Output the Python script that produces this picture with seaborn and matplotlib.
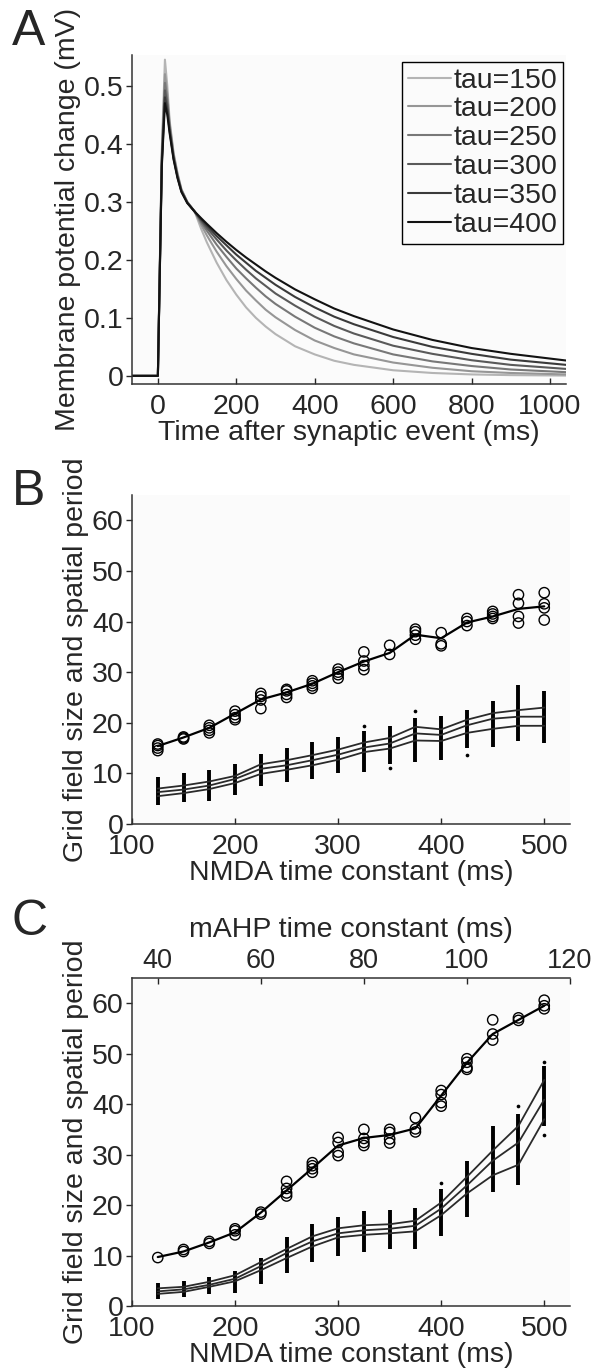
import pandas as pd
import matplotlib
matplotlib.use("Agg")
import matplotlib.pyplot as plt
import seaborn as sns

# ---------- A: membrane potential change after a synaptic event
t_ms = [-66, 0, 10, 18, 24, 30, 40, 50, 60, 75, 94, 110, 125, 150, 175, 200, 225, 250,
        275, 300, 350, 400, 450, 500, 600, 700, 800, 900, 1041]
tau_labels = ['tau=150', 'tau=200', 'tau=250', 'tau=300', 'tau=350', 'tau=400']
v_tau150 = [0, 0, 0.39, 0.545, 0.50, 0.44, 0.385, 0.35, 0.322, 0.300, 0.283, 0.254, 0.230,
            0.195, 0.165, 0.140, 0.118, 0.100, 0.085, 0.072, 0.051, 0.037, 0.026, 0.019,
            0.0097, 0.005, 0.0025, 0.0013, 0.0005]
v_tau200 = [0, 0, 0.38, 0.52, 0.485, 0.435, 0.382, 0.348, 0.321, 0.300, 0.283, 0.261, 0.242,
            0.214, 0.189, 0.167, 0.147, 0.130, 0.114, 0.101, 0.079, 0.061, 0.048, 0.037,
            0.023, 0.014, 0.008, 0.005, 0.0025]
v_tau250 = [0, 0, 0.375, 0.505, 0.475, 0.43, 0.379, 0.346, 0.320, 0.299, 0.283, 0.265, 0.250,
            0.226, 0.205, 0.185, 0.168, 0.152, 0.137, 0.124, 0.102, 0.083, 0.068, 0.056,
            0.037, 0.025, 0.017, 0.011, 0.0064]
v_tau300 = [0, 0, 0.37, 0.492, 0.467, 0.426, 0.377, 0.344, 0.319, 0.299, 0.283, 0.268, 0.255,
            0.235, 0.216, 0.199, 0.183, 0.168, 0.155, 0.142, 0.121, 0.102, 0.086, 0.073,
            0.052, 0.038, 0.027, 0.019, 0.012]
v_tau350 = [0, 0, 0.365, 0.48, 0.458, 0.422, 0.375, 0.343, 0.318, 0.298, 0.283, 0.270, 0.259,
            0.241, 0.225, 0.209, 0.195, 0.181, 0.169, 0.157, 0.136, 0.118, 0.102, 0.089,
            0.067, 0.050, 0.038, 0.028, 0.019]
v_tau400 = [0, 0, 0.36, 0.47, 0.45, 0.418, 0.373, 0.341, 0.317, 0.298, 0.283, 0.272, 0.262,
            0.246, 0.231, 0.217, 0.204, 0.192, 0.180, 0.169, 0.149, 0.132, 0.116, 0.103,
            0.080, 0.062, 0.048, 0.038, 0.0265]
tau_colors = ['#b4b4b4', '#969696', '#787878', '#5a5a5a', '#3a3a3a', '#121212']

# ---------- B / C: NMDA time constants
nmda = [125, 150, 175, 200, 225, 250, 275, 300, 325, 350, 375, 400, 425, 450, 475, 500]

# B: spatial period (circles = runs, line = mean)
b_period_mean = [15.4, 17.1, 19.0, 21.8, 24.6, 26.0, 27.7, 30.0, 32.1, 33.8, 37.4, 36.7,
                 39.8, 41.0, 42.5, 43.0]
b_period_runs = [[14.5, 15.0, 15.5, 15.8], [16.8, 17.0, 17.2], [18.0, 18.5, 19.0, 19.5],
                 [20.6, 21.0, 21.6, 22.3], [22.8, 24.5, 25.2, 25.8], [25.0, 25.6, 26.3, 26.6],
                 [26.8, 27.3, 27.8, 28.3], [28.8, 29.5, 30.0, 30.6], [30.5, 31.3, 32.2, 34.0],
                 [33.5, 35.3], [36.5, 37.3, 38.0, 38.5], [35.2, 35.6, 37.8], [39.2, 40.0, 40.6],
                 [40.6, 41.0, 41.5, 42.0], [39.7, 41.0, 43.6, 45.3], [40.3, 42.7, 43.5, 45.7]]
# B: field size (three lines, dot columns)
b_size_hi = [7.0, 7.6, 8.4, 9.5, 11.8, 12.6, 13.6, 14.7, 16.1, 17.0, 19.2, 18.7, 20.6, 21.9, 22.5, 23.0]
b_size_mid = [6.3, 6.8, 7.6, 8.9, 10.9, 11.6, 12.6, 13.7, 15.1, 15.9, 17.9, 17.6, 19.5, 20.8, 21.2, 21.2]
b_size_lo = [5.5, 6.1, 6.9, 8.1, 9.9, 10.7, 11.6, 12.7, 14.2, 14.9, 16.5, 16.4, 18.0, 18.8, 19.4, 19.4]
b_dot_lo = [3.7, 4.3, 4.6, 5.7, 7.6, 8.2, 8.8, 10.0, 10.2, 11.8, 12.2, 12.6, 15.0, 15.2, 16.4, 16.0]
b_dot_hi = [9.2, 10.0, 10.7, 11.8, 13.8, 15.1, 16.2, 17.2, 18.3, 19.4, 21.0, 21.3, 22.5, 24.3, 27.5, 26.2]
b_out_x = [325, 350, 375, 425]
b_out_y = [19.4, 11.0, 22.3, 13.7]

# C: spatial period
c_period_mean = [9.7, 10.8, 12.6, 14.6, 18.5, 22.9, 27.3, 31.8, 33.3, 33.9, 35.2, 41.7,
                 48.2, 53.9, 56.7, 59.5]
c_period_runs = [[9.6], [10.8, 11.2], [12.4, 12.8], [14.1, 14.9, 15.3], [18.2, 18.6],
                 [21.8, 22.4, 23.3, 24.7], [26.5, 27.2, 27.8, 28.4], [29.8, 30.5, 32.4, 33.4],
                 [31.8, 32.4, 33.2, 35.0], [32.3, 33.1, 34.4, 35.0], [34.5, 35.1, 37.3],
                 [39.6, 40.3, 41.9, 42.7], [46.9, 47.3, 48.3, 49.0], [52.7, 53.9, 56.7],
                 [56.6, 57.1], [58.9, 59.5, 60.6]]
c_size_hi = [3.5, 3.8, 4.8, 6.1, 8.7, 11.3, 13.8, 15.4, 16.0, 16.2, 16.9, 20.5, 25.6, 30.8, 35.7, 44.8]
c_size_mid = [2.9, 3.3, 4.2, 5.4, 7.9, 10.5, 12.8, 14.4, 15.0, 15.3, 15.9, 19.3, 23.9, 28.8, 32.4, 40.9]
c_size_lo = [2.4, 2.8, 3.8, 4.9, 7.1, 9.5, 11.8, 13.6, 14.1, 14.4, 14.8, 18.0, 22.3, 25.9, 28.0, 37.0]
c_dot_lo = [1.3, 1.8, 2.3, 2.6, 4.3, 6.6, 8.7, 10.0, 10.7, 11.3, 11.3, 13.9, 17.7, 22.5, 23.9, 35.7]
c_dot_hi = [4.6, 5.0, 5.7, 7.0, 9.6, 13.7, 16.3, 17.6, 18.9, 19.0, 19.4, 23.1, 28.8, 35.6, 38.0, 47.5]
c_out_x = [400, 475, 500, 500]
c_out_y = [24.3, 39.6, 48.4, 33.9]

FS = 20.5

sns.set_style('ticks')
plt.rcParams['font.family'] = ['Liberation Sans', 'DejaVu Sans']
plt.rcParams['font.size'] = FS
plt.rcParams['axes.linewidth'] = 1.1
plt.rcParams['axes.edgecolor'] = '#333333'
plt.rcParams['axes.facecolor'] = '#fbfbfb'

fig = plt.figure(figsize=(5.93, 13.68), dpi=100)
W, H = 593, 1368


def box(l, t, r, b):
    return [l / W, 1 - b / H, (r - l) / W, (b - t) / H]


axA = fig.add_axes(box(132, 55, 566, 384))
axB = fig.add_axes(box(132, 495, 570, 824))
axC = fig.add_axes(box(132, 978, 570, 1306))

# ---------- panel A
rows = []
for lab, vals in zip(tau_labels, [v_tau150, v_tau200, v_tau250, v_tau300, v_tau350, v_tau400]):
    for t, v in zip(t_ms, vals):
        rows.append((lab, t, v))
dfA = pd.DataFrame(rows, columns=['tau', 't', 'v'])
sns.lineplot(data=dfA, x='t', y='v', hue='tau', palette=tau_colors, estimator=None,
             sort=False, lw=1.5, ax=axA)
h, l = axA.get_legend_handles_labels()
axA.legend(h, l, loc='upper right', bbox_to_anchor=(0.993, 0.979), borderaxespad=0,
           fontsize=FS, handlelength=1.5, handletextpad=0.1, labelspacing=0.1,
           borderpad=0.2, fancybox=False, edgecolor='black', framealpha=1)
axA.set_xlim(-66, 1041)
axA.set_ylim(-0.014, 0.553)
axA.set_xticks([0, 200, 400, 600, 800, 1000])
axA.set_yticks([0, 0.1, 0.2, 0.3, 0.4, 0.5])
axA.set_yticklabels(['0', '0.1', '0.2', '0.3', '0.4', '0.5'])
axA.set_xlabel('Time after synaptic event (ms)', labelpad=0)
axA.set_ylabel('Membrane potential change (mV)', labelpad=2)


def grid_panel(ax, mean, runs, hi, mid, lo, dlo, dhi, ox, oy):
    ax.vlines(nmda, dlo, dhi, color='black', lw=2.8)
    sns.scatterplot(x=ox, y=oy, color='black', s=7, linewidth=0, ax=ax)
    dfl = pd.DataFrame({'nmda': nmda * 3, 'size': hi + mid + lo,
                        'line': ['hi'] * 16 + ['mid'] * 16 + ['lo'] * 16})
    sns.lineplot(data=dfl, x='nmda', y='size', hue='line', palette=['#2a2a2a'] * 3,
                 lw=1.3, legend=False, ax=ax)
    sns.lineplot(x=nmda, y=mean, color='black', lw=1.6, ax=ax)
    rx = [x for x, r in zip(nmda, runs) for _ in r]
    ry = [v for r in runs for v in r]
    sns.scatterplot(x=rx, y=ry, marker='o', facecolor='none', edgecolor='black',
                    linewidth=1.0, s=55, ax=ax)
    ax.set_xlim(100, 525)
    ax.set_ylim(0, 65)
    ax.set_xticks([100, 200, 300, 400, 500])
    ax.set_yticks([0, 10, 20, 30, 40, 50, 60])
    ax.set_xlabel('NMDA time constant (ms)', labelpad=0)
    ax.set_ylabel('Grid field size and spatial period', labelpad=2)


grid_panel(axB, b_period_mean, b_period_runs, b_size_hi, b_size_mid, b_size_lo,
           b_dot_lo, b_dot_hi, b_out_x, b_out_y)
grid_panel(axC, c_period_mean, c_period_runs, c_size_hi, c_size_mid, c_size_lo,
           c_dot_lo, c_dot_hi, c_out_x, c_out_y)

for ax in (axA, axB, axC):
    ax.spines['right'].set_visible(False)
    ax.spines['top'].set_visible(False)
    ax.tick_params(axis='x', direction='in', length=4, width=1, pad=7, labelsize=FS)
    ax.tick_params(axis='y', direction='out', length=4, width=1, pad=2, labelsize=FS)

sec = axC.secondary_xaxis('top', functions=(lambda x: 0.2 * x + 15, lambda m: (m - 15) / 0.2))
sec.set_xticks([40, 60, 80, 100, 120])
sec.tick_params(direction='in', length=4, width=1, pad=3, labelsize=19.5)
sec.spines['top'].set_linewidth(1.1)
sec.set_xlabel('mAHP time constant (ms)', labelpad=8)

fig.text(0.02, 1 - 45 / H, 'A', fontsize=36, va='baseline')
fig.text(0.02, 1 - 505 / H, 'B', fontsize=36, va='baseline')
fig.text(0.02, 1 - 935 / H, 'C', fontsize=36, va='baseline')

fig.savefig('out.png', dpi=100, facecolor='white')
